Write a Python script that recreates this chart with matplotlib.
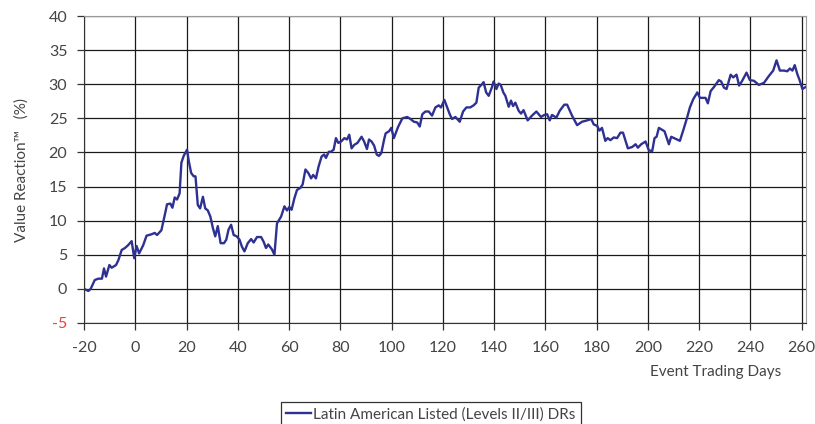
import matplotlib
matplotlib.use("Agg")
import matplotlib.pyplot as plt
import numpy as np

plt.rcParams['font.family'] = ['Lato', 'DejaVu Sans']
plt.rcParams['axes.unicode_minus'] = False

# event day, cumulative value reaction (%)
days = np.array([
    -20, -18.3, -17.4, -15.8, -14.4, -13, -12.2, -11.4, -10.1, -9.2,
    -7.5, -6.6, -5.3, -4, -2.8, -1.4, -0.4, 0.5, 1.5, 3.1,
    4.4, 6.3, 7.6, 8.5, 10.2, 11.5, 12.4, 13.7, 14.5, 15.4,
    16.3, 17.3, 18, 18.9, 20.2, 20.9, 21.8, 22.8, 23.5, 24.4,
    25.3, 26.4, 27.3, 28.3, 29.3, 30.3, 31.2, 32.2, 33.3, 34.6,
    35.5, 36.4, 37.4, 38.4, 39.6, 40.7, 41.6, 42.6, 43.9, 45.2,
    46.2, 47.5, 49.1, 50.1, 51, 51.9, 53.3, 54.3, 55.3, 56.9,
    58.2, 59.2, 60.1, 61, 62.1, 63.1, 64.4, 65.3, 66.4, 67.5,
    68.6, 69.4, 70.5, 71.5, 72.7, 73.7, 74.4, 75.5, 76.3, 77.4,
    78.3, 79.2, 80.3, 81.6, 82.6, 83.5, 84.4, 85.4, 86.7, 88.3,
    89.3, 90.4, 91.2, 92.2, 93.2, 94.2, 95.1, 96, 97.1, 97.7,
    99, 99.9, 100.9, 102.5, 104.2, 106.1, 107.4, 108.7, 110, 111,
    112, 113.2, 114.5, 115.8, 117.1, 118.4, 119.3, 120.6, 121.7, 122.7,
    123.6, 124.9, 126.6, 127.9, 129.2, 130.7, 132, 133.1, 134, 135.3,
    135.9, 136.9, 137.9, 139.2, 139.8, 140.9, 141.8, 142.6, 143.6, 144.4,
    145.7, 146.6, 147.4, 148.3, 149.6, 150.5, 151.5, 153.1, 154.8, 156.5,
    158.3, 159.6, 160.7, 161.7, 162.6, 164.3, 165.6, 167.4, 168.5, 170.4,
    172.4, 174.3, 176.3, 177.9, 178.9, 180.2, 181.1, 182.1, 183.4, 184.3,
    185.4, 186.7, 188, 189.3, 190.3, 192.2, 193.9, 195.2, 196.1, 197.4,
    199.1, 200.4, 201.7, 202.6, 203.4, 204.3, 205.6, 206.5, 208.2, 209.1,
    210.8, 212.5, 214.1, 215.3, 216.4, 217.7, 219.3, 220.3, 221.6, 222.5,
    223.4, 224.5, 225.8, 227.7, 228.6, 229.7, 230.7, 232.3, 233.3, 234.6,
    235.6, 236.8, 238.5, 239.8, 241.4, 243.3, 245.3, 247.2, 248.9, 250.2,
    251.5, 253.1, 254.4, 255.4, 256.4, 257.3, 258.3, 259.3, 260.3, 261.6,
])
reaction = np.array([
    0.0, -0.3, 0.0, 1.3, 1.5, 1.5, 3.0, 1.8, 3.5, 3.1,
    3.5, 4.2, 5.7, 6.0, 6.4, 7.0, 4.5, 6.3, 5.2, 6.4,
    7.8, 8.0, 8.2, 7.9, 8.6, 10.8, 12.4, 12.5, 11.9, 13.4,
    13.1, 14.0, 18.5, 19.5, 20.4, 18.7, 17.0, 16.5, 16.5, 12.3,
    11.8, 13.5, 11.8, 11.5, 10.6, 8.9, 7.7, 9.2, 6.7, 6.7,
    7.2, 8.7, 9.4, 7.9, 7.7, 7.2, 6.2, 5.5, 6.7, 7.3,
    6.8, 7.6, 7.6, 6.9, 6.0, 6.5, 5.8, 5.0, 9.6, 10.6,
    12.1, 11.5, 12.0, 11.6, 13.3, 14.5, 14.8, 15.3, 17.5, 17.0,
    16.2, 16.7, 16.2, 17.9, 19.4, 19.7, 19.2, 20.1, 20.1, 20.4,
    22.1, 21.4, 21.6, 22.1, 21.9, 22.6, 20.6, 21.1, 21.4, 22.3,
    21.6, 20.5, 21.9, 21.6, 21.0, 19.7, 19.5, 19.9, 21.9, 22.8,
    23.1, 23.6, 22.1, 23.7, 25.0, 25.2, 24.9, 24.5, 24.4, 23.8,
    25.6, 26.0, 26.0, 25.4, 26.6, 26.9, 26.6, 27.7, 26.6, 25.6,
    24.9, 25.2, 24.5, 26.0, 26.6, 26.6, 26.9, 27.3, 29.5, 30.0,
    30.3, 28.8, 28.3, 29.6, 30.4, 29.3, 30.1, 29.9, 28.8, 28.3,
    26.7, 27.6, 26.8, 27.3, 26.1, 25.7, 26.2, 24.7, 25.4, 26.0,
    25.2, 25.5, 25.6, 24.7, 25.5, 25.1, 26.1, 27.0, 27.0, 25.4,
    24.0, 24.5, 24.7, 24.9, 24.1, 23.9, 23.2, 23.6, 21.7, 22.1,
    21.8, 22.2, 22.1, 22.9, 22.9, 20.6, 20.8, 21.2, 20.7, 21.2,
    21.6, 20.3, 20.2, 22.1, 22.3, 23.6, 23.3, 23.1, 21.2, 22.3,
    22.0, 21.7, 23.6, 25.1, 26.6, 27.8, 28.8, 28.0, 28.0, 28.0,
    27.2, 29.0, 29.6, 30.6, 30.4, 29.5, 29.3, 31.4, 31.0, 31.4,
    29.8, 30.5, 31.7, 30.6, 30.5, 29.9, 30.2, 31.2, 32.0, 33.5,
    32.0, 32.0, 31.9, 32.3, 32.0, 32.8, 31.5, 30.5, 29.3, 29.6,
])

xticks = np.arange(-20, 261, 20)
yticks = np.arange(-5, 41, 5)

fig = plt.figure(figsize=(8.15, 4.24), dpi=100)
ax = fig.add_axes([84/815, 1 - 323/424, 722/815, 307/424])

ax.plot(days, reaction, color="#2e3192", lw=1.7, label="Latin American Listed (Levels II/III) DRs")

ax.set_xlim(-20, 261.7)
ax.set_ylim(-5, 40)
ax.set_xticks(xticks)
ax.set_yticks(yticks)
ax.set_yticklabels([str(v) for v in yticks])
ax.grid(True, color="#1a1a1a", lw=0.9)
ax.set_axisbelow(True)

ax.tick_params(axis="both", direction="out", length=5, width=0.9, color="#333333",
               labelsize=11.5, labelcolor="#444444")
ax.tick_params(axis="x", pad=8)
ax.tick_params(axis="y", pad=7)
for lab in ax.get_yticklabels():
    if lab.get_text().startswith("-"):
        lab.set_color("#e8413c")

for s in ["left", "bottom"]:
    ax.spines[s].set_color("#333333")
for s in ["top", "right"]:
    ax.spines[s].set_color("#9a9a9a")

ax.set_ylabel("Value Reaction\u2122   (%)", fontsize=11, color="#444444", labelpad=14)
fig.text(781/815, 1 - 372/424, "Event Trading Days", ha="right", va="center",
         fontsize=11, color="#444444")

leg = fig.legend(loc="upper left", bbox_to_anchor=(281/815, 1 - 402/424), fancybox=False,
                 edgecolor="#333333", framealpha=1, fontsize=11, handlelength=1.6,
                 handletextpad=0.15, borderpad=0.35, borderaxespad=0, labelcolor="#444444")
leg.get_frame().set_linewidth(0.9)

fig.savefig("out.png", dpi=100)
